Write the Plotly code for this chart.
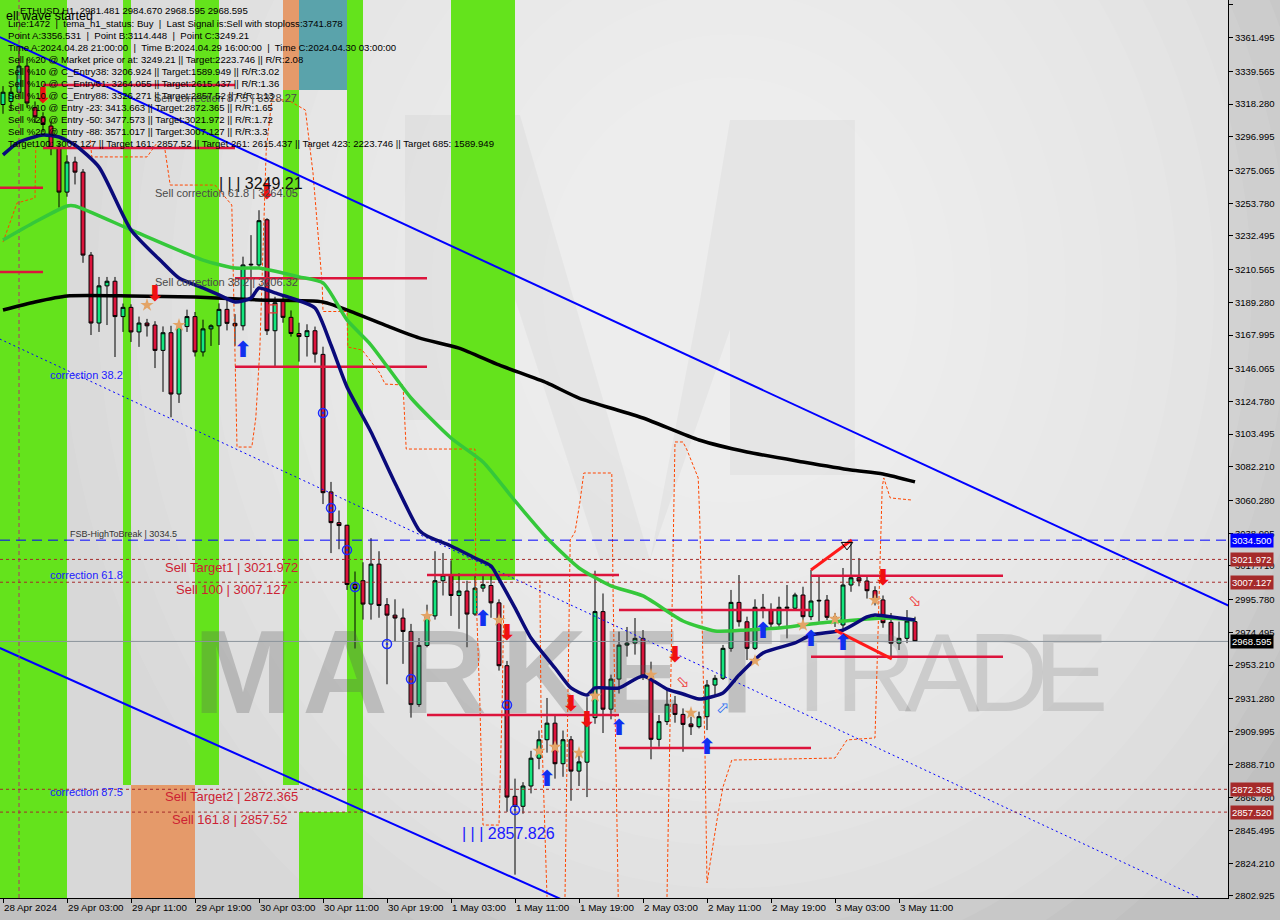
import pandas as pd
import plotly.graph_objects as go

# ---------------- data ----------------
times = pd.date_range("2024-04-28 19:00", periods=115, freq="h")
bar = list(range(len(times)))

opens = [
    3318, 3320, 3326, 3343, 3316, 3310, 3304, 3290, 3261, 3280.6,
    3274, 3220, 3175.8, 3200, 3203, 3180, 3186, 3170, 3175.8, 3174.5,
    3158, 3169.5, 3129.6, 3173.5, 3180, 3157, 3172, 3174, 3184.7, 3175.6,
    3174, 3213.6, 3213.6, 3243, 3170.8, 3190.8, 3179.5, 3169, 3167, 3170.8,
    3155.4, 3065.9, 3045.9, 3044.2, 3005.7, 3008.1, 2992.9, 3018.9, 2992.5, 2985.7,
    2983.8, 2975.1, 2927.5, 2966, 2985.2, 3008.1, 3011.7, 2998.5, 3001.4, 2986.4,
    3003.3, 3005.0, 2993.7, 2952.8, 2867.8, 2861.3, 2874.5, 2892.6, 2904.6, 2915.4,
    2889, 2904.6, 2884.2, 2890.0, 2919, 2988, 2924.5, 2944.1, 2966.2, 2967.5,
    2970.6, 2946.1, 2904.9, 2916.4, 2927.7, 2921.1, 2914.9, 2913.1, 2919.6, 2940.2,
    2944.6, 2964.1, 2994, 2981.4, 2964.1, 2990.8, 2989, 2979.9, 2990.2, 2990.2,
    2998.8, 2984.7, 2994.9, 2995.5, 2983.5, 2979.3, 3005.3, 3010, 3007.9, 3001.6,
    2995.6, 2981, 2967.4, 2970.6, 2981.481]
highs = [
    3330, 3330, 3356.531, 3348, 3320, 3313, 3307, 3293, 3285, 3284,
    3276, 3222, 3205.8, 3205.8, 3205.8, 3188.5, 3188, 3180, 3178.5, 3177,
    3173.6, 3174, 3176.2, 3184.5, 3183, 3178, 3175, 3188.6, 3190.8, 3181.6,
    3219, 3233, 3249.21, 3244, 3192.9, 3193, 3184, 3176, 3175, 3173.5,
    3160.4, 3072.4, 3053.8, 3044.5, 3014.1, 3020.1, 3035.8, 3027.3, 2996.8, 2996,
    2990, 2980, 2970.8, 2992.5, 3027.3, 3026.1, 3021.3, 3012.9, 3008.1, 3011.7,
    3011.7, 3011.7, 2996, 2955.9, 2879.3, 2877, 2897.4, 2910.6, 2931.8, 2920.2,
    2910.6, 2907, 2897.4, 2932.3, 3014.6, 2999.8, 2947, 2975, 2978, 2983.8,
    2976, 2955.4, 2920.7, 2938.1, 2933.1, 2925, 2919.6, 2922.9, 2943.5, 2946.7,
    2966.3, 3002.1, 3011.8, 2984.7, 2996, 2999.5, 2993.4, 2997.7, 3005.3, 3000.3,
    3004.2, 3015.1, 3011.8, 2998.8, 2987, 3016.4, 3034.6, 3022.9, 3011.5, 3004.5,
    2998.5, 2987.1, 2981.5, 2989, 2984.670]
lows = [
    3312, 3314, 3322, 3316, 3306, 3300, 3285, 3251, 3258, 3266,
    3215, 3168, 3170, 3174.5, 3153.7, 3170, 3163.5, 3160.3, 3167, 3146.5,
    3131, 3114.448, 3123.8, 3170, 3154, 3154, 3160.9, 3161.5, 3171, 3161,
    3171, 3190, 3212, 3168, 3147.5, 3176, 3167, 3150.7, 3154, 3150,
    3058, 3026.1, 3028.6, 3002.1, 2964, 2982.8, 2982.8, 2984, 2940.7, 2968.4,
    2954, 2919, 2926, 2964.8, 2982.8, 2998.5, 2985.2, 2976.8, 2964.8, 2985.2,
    3000.9, 2984, 2949.6, 2857.7, 2816.8, 2856.5, 2869.7, 2885.4, 2896.2, 2879.3,
    2880.5, 2864.9, 2874.5, 2867.3, 2915, 2909, 2917.9, 2934.7, 2958.7, 2960,
    2943.5, 2891.9, 2900.1, 2914.2, 2915.7, 2896.8, 2907.7, 2912, 2910.9, 2932.6,
    2943.5, 2961.9, 2978.2, 2956.5, 2963, 2983.6, 2977.1, 2977.1, 2970.6, 2989,
    2977.1, 2982.5, 2981.5, 2982.5, 2978, 2975, 3000.9, 3004.5, 2996.5, 2992,
    2977.5, 2959.1, 2963, 2967.5, 2968.595]
closes = [
    3326, 3326, 3343, 3319, 3310, 3305, 3290, 3261, 3280.6, 3274,
    3220, 3175.8, 3200, 3203, 3180, 3186, 3170, 3175.8, 3174, 3158,
    3169.5, 3129.6, 3173.5, 3180, 3157, 3172, 3174, 3184.7, 3175.6, 3174,
    3213.6, 3214.0, 3242.4, 3170.8, 3189, 3179.5, 3169, 3167, 3170.8, 3155.6,
    3065.4, 3045.9, 3044, 3005.7, 3003, 2992.9, 3018.9, 2992, 2985.7, 2983.8,
    2975.1, 2927.5, 2966, 2985.2, 3008.1, 3011.7, 2998.5, 3001.4, 2986.4, 3003.3,
    3005.5, 2993.7, 2952.8, 2867.3, 2861.3, 2874.5, 2892.6, 2904.6, 2915.4, 2889,
    2904.6, 2884.2, 2890.2, 2919, 2988, 2924.5, 2944.1, 2966.2, 2967.5, 2970.6,
    2946.1, 2904.9, 2916.4, 2927.7, 2921.1, 2914.6, 2913.1, 2919.6, 2940.2, 2944.6,
    2964.1, 2994, 2981.4, 2964.1, 2990.8, 2989, 2979.9, 2990.8, 2990.8, 2998.8,
    2984.7, 2994.9, 2995.3, 2984.3, 2984.5, 3005.3, 3010, 3007.9, 3001.6, 2996.2,
    2980.8, 2967.4, 2970.6, 2981.9, 2968.595]

tick_bars = [0, 8, 16, 24, 32, 40, 48, 56, 64, 72, 80, 88, 96, 104, 112]
tick_labels = ["28 Apr 2024", "29 Apr 03:00", "29 Apr 11:00", "29 Apr 19:00",
               "30 Apr 03:00", "30 Apr 11:00", "30 Apr 19:00", "1 May 03:00",
               "1 May 11:00", "1 May 19:00", "2 May 03:00", "2 May 11:00",
               "2 May 19:00", "3 May 03:00", "3 May 11:00"]
price_ticks = [3382.780, 3361.495, 3339.565, 3318.280, 3296.995, 3275.065, 3253.780,
               3232.495, 3210.565, 3189.280, 3167.995, 3146.065, 3124.780, 3103.495,
               3082.210, 3060.280, 3038.995, 3017.710, 2995.780, 2974.495, 2953.210,
               2931.280, 2909.995, 2888.710, 2866.780, 2845.495, 2824.210, 2802.925]

# moving averages, sampled vertices (bar index, price)
ma_slow_bars = [0, 4, 8, 16, 24, 32, 40, 44, 48, 52, 57, 62, 68, 72, 80, 87, 93, 100, 106, 110, 114]
ma_slow = [3184.3, 3189.5, 3193.4, 3193.4, 3192.7, 3190.8, 3189.5, 3182.3, 3173.9, 3166.1, 3159.5,
           3148.5, 3136.8, 3127.0, 3114.0, 3099.7, 3091.9, 3085.4, 3080.2, 3077.6, 3072.4]
ma_mid_bars = [0, 4, 8, 9, 16, 25, 29, 32, 37, 40, 43, 46, 51, 56, 60, 64, 68, 72, 76, 80,
               85, 89, 93, 97, 101, 105, 110, 114]
ma_mid = [3229.9, 3241.6, 3252.0, 3252.0, 3236.4, 3216.8, 3211.6, 3211.6, 3205.8, 3201.9,
          3177.8, 3161.5, 3127.0, 3101.0, 3085.4, 3060.0, 3035.9, 3016.4, 3004.7, 2998.2,
          2981.9, 2975.4, 2976.1, 2977.3, 2980.0, 2981.9, 2983.9, 2982.6]
tema_bars = [0, 2, 5, 7, 9, 12, 16, 20, 22, 25, 27, 29, 31, 32, 34, 36, 39, 41, 43, 46, 49,
             52, 53, 56, 59, 61, 62, 64, 66, 69, 71, 73, 74, 77, 80, 83, 85, 87, 90, 92, 95,
             99, 101, 105, 108, 109, 112, 114]
tema = [3285.2, 3293.6, 3298.2, 3296.9, 3291.7, 3277.3, 3236.4, 3214.9, 3205.1, 3198.6,
        3194.1, 3189.5, 3192.1, 3198.6, 3195.4, 3192.1, 3185.6, 3161.5, 3134.2, 3104.9,
        3071.7, 3041.1, 3037.2, 3030.7, 3022.9, 3017.7, 3009.2, 2990.4, 2970.8, 2951.3,
        2938.3, 2933.7, 2938.3, 2938.3, 2946.1, 2937.6, 2934.4, 2931.1, 2935.1, 2946.7,
        2961.1, 2967.6, 2972.8, 2976.0, 2984.5, 2985.8, 2983.9, 2982.6]

# trend-channel anchors (bar index, price)
chan_upper_bars, chan_upper = [-0.4, 153.2], [3361.9, 2991.9]
chan_lower_bars, chan_lower = [-0.4, 70.0], [2964.3, 2800.3]
chan_mid_bars, chan_mid = [-0.4, 149.6], [3165.4, 2801.6]

# daily levels
day_from = [-0.4, 5, 29, 53, 77, 101]
day_to = [5, 29, 53, 77, 101, 125]
day_high = [3263.9, 3330.7, 3205.0, 3011.8, 2989.0, 3011.4]
day_low = [3209.0, 3289.7, 3147.4, 2920.7, 2899.2, 2958.6]

fsb_level = 3034.5
target_levels = [3021.972, 3007.127, 2872.365, 2857.52]
last_price = 2968.595

wedge_up_bars, wedge_up = [101, 106.1], [3015.1, 3034.6]
wedge_dn_bars, wedge_dn = [104, 111.1], [2976.0, 2957.2]

# dashed envelope paths (bar index, price)
env1_bars = [0, 1.75, 4, 4.1]
env1 = [3228.5, 3253.9, 3257.2, 3290.4]
env2_bars = [10.9, 11.1, 18, 19.25]
env2 = [3294.9, 3283.9, 3283.9, 3293.0]
env3_bars = [20.25, 20.9, 26.5, 28.6, 29.25, 31.1, 31.6, 32.1, 32.9, 33.6, 35.6, 37.8, 38.75,
             39.9, 40, 43, 43.1, 44.9, 47.1, 47.75, 50, 50.4, 59, 59.1, 59.6, 60, 62, 62.4, 62.6]
env3 = [3288.4, 3265.6, 3265.6, 3252.6, 3095.1, 3095.1, 3114.0, 3158.2, 3288.4, 3321.0,
        3321.0, 3314.4, 3273.5, 3201.0, 3183.3, 3183.3, 3160.2, 3158.2, 3143.3, 3136.1,
        3135.5, 3093.8, 3093.8, 3004.6, 2930.5, 2849.1, 2849.1, 2930.5, 2992.3]
env4_bars = [67.1, 67.25, 68]
env4 = [3008.6, 2925.3, 2802.3]
env5_bars = [70.25, 70.6, 70.9, 71.5, 72.1, 72.6, 76.1, 76.25, 76.9]
env5 = [2802.3, 2918.1, 3034.6, 3039.8, 3058.7, 3078.2, 3078.2, 3004.0, 2802.3]
env6_bars = [83, 83.4, 84, 85, 85.5, 86.9, 87.1, 87.75, 88, 89.25, 90, 91.1, 104, 105.5,
             109, 109.9, 110.1, 110.9, 113.6]
env6 = [2802.3, 2930.5, 3098.4, 3098.4, 3093.2, 3075.0, 3047.6, 2896.0, 2811.4, 2852.4,
        2873.9, 2891.4, 2892.7, 2904.5, 2905.8, 3069.1, 3075.0, 3062.0, 3060.6]

# signal markers (bar index, price)
sell_arrow_bars = [5, 19, 33, 63, 71, 73, 84, 110]
sell_arrow = [3322.9, 3194.0, 3260.4, 2973.4, 2926.6, 2916.8, 2958.5, 3008.6]
buy_arrow_bars = [30, 60, 68, 77, 88, 95, 101, 105]
buy_arrow = [3157.0, 2982.5, 2878.4, 2911.6, 2899.2, 2974.1, 2969.5, 2966.3]
sell_hint_bars, sell_hint = [85, 114], [2941.5, 2994.3]
buy_hint_bars, buy_hint = [90], [2924.6]
star_bars = [18, 22, 53, 62, 67, 69, 72, 74, 81, 86, 94, 100, 104, 109]
star = [3187.5, 3174.5, 2985.1, 2982.5, 2897.3, 2899.9, 2896.0, 2933.1, 2946.8, 2922.0,
        2955.9, 2979.3, 2983.2, 2995.5]
ring_bars = [40, 41, 43, 44, 48, 51, 63, 64]
ring = [3117.3, 3055.4, 3028.1, 3004.0, 2966.9, 2944.1, 2927.2, 2858.9]
peak_mark_bars, peak_mark = [105.5], [3031.4]
box_mark_bars, box_mark = [33.75], [3185.0]

# time-zone bands: (from bar, to bar, low price, high price, kind)
bands = [
    (-0.4, 8, None, None, "g"),
    (15, 16, 2875.2, None, "g"),
    (16, 24, None, 2875.2, "o"),
    (24, 27, 2875.2, None, "g"),
    (35, 37, 3327.5, None, "o"),
    (35, 37, 2875.2, 3327.5, "g"),
    (37, 43, 3327.5, None, "t"),
    (43, 45, None, None, "g"),
    (37, 45, None, 2857.6, "g"),
    (56, 64, 3008.6, None, "g"),
]
band_colors = {"g": "#64e31c", "o": "#e59a6a", "t": "#5aa3ab"}

info_lines = [
    "Line:1472  |  tema_h1_status: Buy  |  Last Signal is:Sell with stoploss:3741.878",
    "Point A:3356.531  |  Point B:3114.448  |  Point C:3249.21",
    "Time A:2024.04.28 21:00:00  |  Time B:2024.04.29 16:00:00  |  Time C:2024.04.30 03:00:00",
    "Sell %20 @ Market price or at: 3249.21 || Target:2223.746 || R/R:2.08",
    "Sell %10 @ C_Entry38: 3206.924 || Target:1589.949 || R/R:3.02",
    "Sell %10 @ C_Entry61: 3264.055 || Target:2615.437 || R/R:1.36",
    "Sell %10 @ C_Entry88: 3326.271 || Target:2857.52 || R/R:1.13",
    "Sell %10 @ Entry -23: 3413.663 || Target:2872.365 || R/R:1.65",
    "Sell %20 @ Entry -50: 3477.573 || Target:3021.972 || R/R:1.72",
    "Sell %20 @ Entry -88: 3571.017 || Target:3007.127 || R/R:3.3",
    "Target100: 3007.127 || Target 161: 2857.52 || Target 261: 2615.437 || Target 423: 2223.746 || Target 685: 1589.949",
]

# ---------------- figure ----------------
W, H = 1280, 920
ML, MR, MT, MB = 0, 52, 0, 22
PW, PH = W - ML - MR, H - MT - MB
X0, X1 = -0.375, 153.125
Y0, Y1 = 2801.62, 3386.03
FONT = "Liberation Sans"


def px(x):
    return x / PW


def py(y):
    return 1 - y / PH


def pbar(x):
    return (x - 3) / 8.0


fig = go.Figure()
shapes = []

# background shading (soft radial light)
shapes.append(dict(type="rect", xref="paper", yref="paper", x0=0, x1=1, y0=0, y1=1,
                   fillcolor="#d8d8d8", line_width=0, layer="below"))
n_steps = 14
for k in range(n_steps):
    f = 1 - k / n_steps
    rx, ry = 150 + 520 * f, 170 + 600 * f
    cx, cy = 730, 290
    shapes.append(dict(type="circle", xref="paper", yref="paper",
                       x0=px(cx - rx), x1=px(cx + rx), y0=py(cy + ry), y1=py(cy - ry),
                       fillcolor="rgba(255,255,255,0.075)", line_width=0, layer="below"))
# faint logo
for poly in [
    [(405, 115), (455, 115), (455, 420), (405, 420)],
    [(730, 120), (855, 120), (855, 475), (730, 475)],
    [(455, 115), (520, 115), (650, 560), (600, 560)],
    [(650, 560), (700, 300), (730, 120), (730, 330)],
]:
    path = "M " + " L ".join(f"{px(a):.5f},{py(b):.5f}" for a, b in poly) + " Z"
    shapes.append(dict(type="path", xref="paper", yref="paper", path=path,
                       fillcolor="rgba(0,0,0,0.03)", line_width=0, layer="below"))

for b0, b1, lo, hi, kind in bands:
    shapes.append(dict(type="rect", xref="x", yref="y", x0=b0, x1=b1,
                       y0=Y0 if lo is None else lo, y1=Y1 if hi is None else hi,
                       fillcolor=band_colors[kind], line_width=0, layer="below"))

# watermark (below candles), letter by letter
wm_bold = [("M", 243), ("A", 345), ("R", 444), ("K", 544), ("E", 641), ("T", 737)]
wm_light = [("T", 812), ("R", 876), ("A", 942), ("D", 1008), ("E", 1071)]
fig.add_trace(go.Scatter(x=[pbar(c) for _, c in wm_bold], y=[2941.5] * len(wm_bold),
                         mode="text", text=[t for t, _ in wm_bold], textposition="middle center",
                         hoverinfo="skip",
                         textfont=dict(family="Liberation Sans", size=118, weight="bold",
                                       color="rgba(90,90,90,0.28)")))
fig.add_trace(go.Scatter(x=[pbar(c) for _, c in wm_light], y=[2941.5] * len(wm_light),
                         mode="text", text=[t for t, _ in wm_light], textposition="middle center",
                         hoverinfo="skip",
                         textfont=dict(family="Liberation Sans", size=112,
                                       color="rgba(110,110,110,0.22)")))

# dashed envelope
for bx, by in [(env1_bars, env1), (env2_bars, env2), (env3_bars, env3), (env4_bars, env4),
               (env5_bars, env5), (env6_bars, env6)]:
    fig.add_trace(go.Scatter(x=bx, y=by, mode="lines", hoverinfo="skip",
                             line=dict(color="#ff4500", width=1, dash="3px,2px")))

# channel lines
fig.add_trace(go.Scatter(x=chan_mid_bars, y=chan_mid, mode="lines", hoverinfo="skip",
                         line=dict(color="#0000ff", width=1, dash="2px,3px")))
fig.add_trace(go.Scatter(x=chan_upper_bars, y=chan_upper, mode="lines", hoverinfo="skip",
                         line=dict(color="#0000ff", width=2)))
fig.add_trace(go.Scatter(x=chan_lower_bars, y=chan_lower, mode="lines", hoverinfo="skip",
                         line=dict(color="#0000ff", width=2)))

# point-A vertical marker
fig.add_trace(go.Scatter(x=[2, 2], y=[Y0, Y1], mode="lines", hoverinfo="skip",
                         line=dict(color="#b0306a", width=1, dash="4px,3px")))

# horizontal levels
fig.add_trace(go.Scatter(x=[X0, X1], y=[last_price, last_price], mode="lines", hoverinfo="skip",
                         line=dict(color="#8c949c", width=1)))
for lv in target_levels:
    fig.add_trace(go.Scatter(x=[X0, X1], y=[lv, lv], mode="lines", hoverinfo="skip",
                             line=dict(color="#a52a2a", width=1, dash="3px,3px")))
fig.add_trace(go.Scatter(x=[X0, X1], y=[fsb_level, fsb_level], mode="lines", hoverinfo="skip",
                         line=dict(color="#0000ff", width=1, dash="10px,6px")))

# daily level segments
sx, sy = [], []
for a, b, h, l in zip(day_from, day_to, day_high, day_low):
    sx += [a, b, None, a, b, None]
    sy += [h, h, None, l, l, None]
fig.add_trace(go.Scatter(x=sx, y=sy, mode="lines", hoverinfo="skip",
                         line=dict(color="#dc143c", width=2.5)))

# candles
fig.add_trace(go.Candlestick(
    x=bar, open=opens, high=highs, low=lows, close=closes, hoverinfo="skip",
    increasing=dict(line=dict(color="#000000", width=1), fillcolor="#14e67e"),
    decreasing=dict(line=dict(color="#000000", width=1), fillcolor="#dc143c"),
    whiskerwidth=0))

# averages
fig.add_trace(go.Scatter(x=ma_slow_bars, y=ma_slow, mode="lines", hoverinfo="skip",
                         line=dict(color="#000000", width=3.5, shape="spline", smoothing=0.6)))
fig.add_trace(go.Scatter(x=ma_mid_bars, y=ma_mid, mode="lines", hoverinfo="skip",
                         line=dict(color="#35c83a", width=3.5, shape="spline", smoothing=0.6)))
fig.add_trace(go.Scatter(x=tema_bars, y=tema, mode="lines", hoverinfo="skip",
                         line=dict(color="#0a0a7a", width=3.5, shape="spline", smoothing=0.6)))

# wedge lines
fig.add_trace(go.Scatter(x=wedge_up_bars, y=wedge_up, mode="lines", hoverinfo="skip",
                         line=dict(color="#ff1a1a", width=3)))
fig.add_trace(go.Scatter(x=wedge_dn_bars, y=wedge_dn, mode="lines", hoverinfo="skip",
                         line=dict(color="#ff1a1a", width=3)))

# markers
fig.add_trace(go.Scatter(x=star_bars, y=star, mode="markers", hoverinfo="skip",
                         marker=dict(symbol="star", size=10, color="#e3a466", line_width=0)))
fig.add_trace(go.Scatter(x=ring_bars, y=ring, mode="markers", hoverinfo="skip",
                         marker=dict(symbol="circle-open-dot", size=9, color="#1a2cff",
                                     line=dict(width=1.5, color="#1a2cff"))))
fig.add_trace(go.Scatter(x=sell_arrow_bars, y=sell_arrow, mode="text", hoverinfo="skip",
                         text=["⬇"] * len(sell_arrow_bars),
                         textfont=dict(family="DejaVu Sans", size=22, weight="bold",
                                       color="#f01010")))
fig.add_trace(go.Scatter(x=buy_arrow_bars, y=buy_arrow, mode="text", hoverinfo="skip",
                         text=["⬆"] * len(buy_arrow_bars),
                         textfont=dict(family="DejaVu Sans", size=22, weight="bold",
                                       color="#1030f0")))
fig.add_trace(go.Scatter(x=sell_hint_bars, y=sell_hint, mode="text", hoverinfo="skip",
                         text=["⬂"] * len(sell_hint_bars),
                         textfont=dict(family="DejaVu Sans", size=16, color="#f03030")))
fig.add_trace(go.Scatter(x=buy_hint_bars, y=buy_hint, mode="text", hoverinfo="skip",
                         text=["⬀"] * len(buy_hint_bars),
                         textfont=dict(family="DejaVu Sans", size=16, color="#3070f0")))
fig.add_trace(go.Scatter(x=peak_mark_bars, y=peak_mark, mode="markers", hoverinfo="skip",
                         marker=dict(symbol="triangle-down-open", size=10, color="#000000",
                                     line=dict(width=1))))
fig.add_trace(go.Scatter(x=box_mark_bars, y=box_mark, mode="markers", hoverinfo="skip",
                         marker=dict(symbol="square-open", size=8, color="#f03030",
                                     line=dict(width=1.2))))

# ---------------- annotations ----------------
ann = []


def label(xb, yp, text, color, size, family=FONT):
    ann.append(dict(x=xb, y=yp, xref="x", yref="y", text=text, showarrow=False,
                    xanchor="left", yanchor="middle",
                    font=dict(family=family, size=size, color=color)))


label(18.6, 3322.3, "Sell correction 87.5 | 3328.27", "#4a4a4a", 11)
label(26.7, 3266.9, "| | | 3249.21", "#111111", 16)
label(18.7, 3260.4, "Sell correction 61.8 | 3264.05", "#4a4a4a", 11)
label(18.7, 3202.5, "Sell correction 38.2 | 3206.32", "#4a4a4a", 11)
label(5.6, 3142.0, "correction 38.2", "#1a1aff", 11)
label(8.1, 3038.5, "FSB-HighToBreak | 3034.5", "#333333", 9)
label(5.6, 3011.8, "correction 61.8", "#1a1aff", 11)
label(20.0, 3017.0, "Sell Target1 | 3021.972", "#cc2233", 13)
label(21.4, 3002.1, "Sell 100 | 3007.127", "#cc2233", 13)
label(5.6, 2870.6, "correction 87.5", "#1a1aff", 11)
label(20.0, 2867.4, "Sell Target2 | 2872.365", "#cc2233", 13)
label(20.9, 2852.4, "Sell 161.8 | 2857.52", "#cc2233", 13)
label(57.1, 2843.3, "| | | 2857.826", "#1a1aff", 16)

# info block top-left
ann.append(dict(x=px(18), y=py(10), xref="paper", yref="paper", showarrow=False,
                xanchor="left", yanchor="middle",
                text="ETHUSD,H1  2981.481 2984.670 2968.595 2968.595",
                font=dict(family=FONT, size=9.6, color="#000000")))
ann.append(dict(x=px(4), y=py(16), xref="paper", yref="paper", showarrow=False,
                xanchor="left", yanchor="middle", text="ell wave started",
                font=dict(family=FONT, size=12.5, color="#000000")))
for k, t in enumerate(info_lines):
    ann.append(dict(x=px(6), y=py(24 + 11.9 * k), xref="paper", yref="paper", showarrow=False,
                    xanchor="left", yanchor="middle", text=t,
                    font=dict(family=FONT, size=9.6, color="#000000")))

# price tags on the axis
for lv, col in [(fsb_level, "#0000ff"), (target_levels[0], "#a52a2a"), (target_levels[1], "#a52a2a"),
                (last_price, "#000000"), (target_levels[2], "#a52a2a"), (target_levels[3], "#a52a2a")]:
    ann.append(dict(x=1, y=lv, xref="paper", yref="y", showarrow=False, xanchor="left",
                    yanchor="middle", xshift=2, text=f"{lv:.3f}", bgcolor=col, borderpad=1,
                    font=dict(family=FONT, size=9.5, color="#ffffff")))

fig.update_layout(
    width=W, height=H, autosize=False, showlegend=False,
    margin=dict(l=ML, r=MR, t=MT, b=MB, pad=0, autoexpand=False),
    paper_bgcolor="#c0c0c0", plot_bgcolor="#d8d8d8",
    shapes=shapes, annotations=ann,
    xaxis=dict(range=[X0, X1], showgrid=False, zeroline=False, rangeslider=dict(visible=False),
               automargin=False, tickangle=0,
               tickmode="array", tickvals=tick_bars, ticktext=tick_labels,
               ticks="outside", ticklen=4, tickcolor="#000000",
               ticklabelposition="outside right",
               tickfont=dict(family=FONT, size=9.8, color="#000000"),
               showline=True, linecolor="#000000", linewidth=1),
    yaxis=dict(range=[Y0, Y1], side="right", showgrid=False, zeroline=False,
               automargin=False,
               tickmode="array", tickvals=price_ticks, ticktext=[f"{v:.3f}" for v in price_ticks],
               ticks="outside", ticklen=4, tickcolor="#000000",
               tickfont=dict(family=FONT, size=9.5, color="#000000"),
               showline=True, linecolor="#000000", linewidth=1),
)

fig.write_html("out.html", config={"displayModeBar": False},
               post_script="document.body.style.margin='0px';document.body.style.background='#c0c0c0';")
